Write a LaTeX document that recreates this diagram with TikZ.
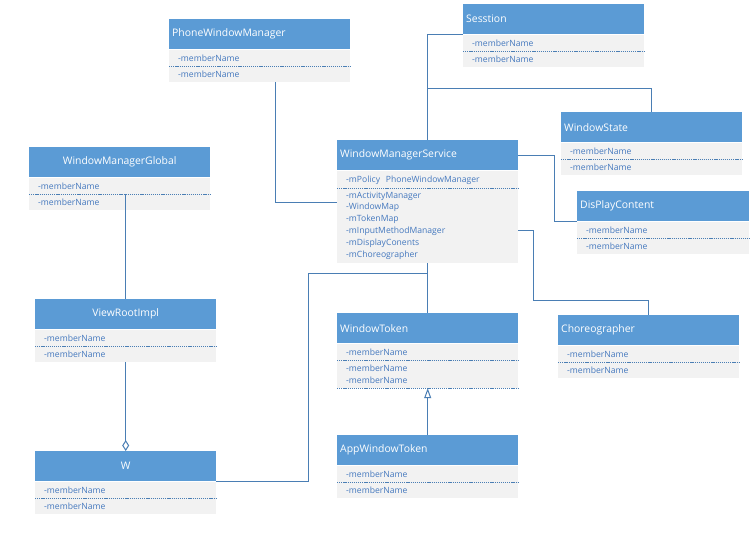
\documentclass[tikz,border=0pt]{standalone}
\usepackage{fontspec}
\setmainfont{Open Sans}
\usetikzlibrary{arrows.meta}

\definecolor{hdrblue}{RGB}{91,155,213}
\definecolor{bodygray}{RGB}{242,242,242}
\definecolor{membblue}{RGB}{68,120,190}
\definecolor{linkblue}{RGB}{74,126,180}

\tikzset{
  hdr/.style={fill=hdrblue, text=white, anchor=north west, inner xsep=3pt,
    minimum height=30pt, font=\fontsize{10.4}{12}\selectfont},
  bdy/.style={fill=bodygray, text=membblue, anchor=north west, inner xsep=9pt,
    inner ysep=0pt, minimum height=16pt, align=left, text height=8pt, text depth=0.7pt,
    font=\fontsize{8.6}{11.8}\selectfont},
  bdymulti/.style={bdy, text height=, text depth=},
  sep/.style={linkblue, line width=0.5pt, dash pattern=on 1.2pt off 0.9pt},
  conn/.style={linkblue, line width=1pt},
}

\begin{document}
\begin{tikzpicture}[x=1pt,y=-1pt]
  \fill[white] (0,0) rectangle (754,533);
  \useasboundingbox (0,0) rectangle (754,533);

  % classes with two members
  \foreach \n/\x/\y/\w/\ttl/\al in {
      pwm/169/19/181/PhoneWindowManager/left,
      ses/463/4/181/Sesstion/left,
      wst/561/112/181/WindowState/left,
      dpc/577/191/172/DisPlayContent/left,
      wmg/29/147/181/WindowManagerGlobal/center,
      vri/35/299/181/ViewRootImpl/center,
      w/35/451/181/W/center,
      awt/337/435/181/AppWindowToken/left,
      cho/558/315/181/Choreographer/left} {
    \pgfmathsetmacro\tw{\w-6}
    \pgfmathsetmacro\bw{\w-18}
    \node[hdr, text width=\tw pt, align=\al] (\n) at (\x,\y) {\ttl};
    \node[bdy, text width=\bw pt] (\n-a) at (\n.south west) {-memberName};
    \node[bdy, text width=\bw pt] (\n-b) at (\n-a.south west) {-memberName};
    \draw[sep] (\n-b.north west) -- (\n-b.north east);
  }

  % WindowManagerService
  \node[hdr, text width=175pt, align=left] (wms) at (337,140) {WindowManagerService};
  \node[bdy, text width=163pt, minimum height=17pt] (wms-a) at (wms.south west)
    {-mPolicy\ \ PhoneWindowManager};
  \node[bdymulti, text width=163pt, minimum height=75pt] (wms-b) at (wms-a.south west)
    {-mActivityManager\\-WindowMap\\-mTokenMap\\-mInputMethodManager\\-mDisplayConents\\-mChoreographer};
  \draw[sep] (wms-b.north west) -- (wms-b.north east);

  % WindowToken
  \node[hdr, text width=175pt, align=left] (wt) at (337,313) {WindowToken};
  \node[bdy, text width=163pt] (wt-a) at (wt.south west) {-memberName};
  \node[bdymulti, text width=163pt, minimum height=28pt] (wt-b) at (wt-a.south west)
    {-memberName\\-memberName};
  \draw[sep] (wt-b.north west) -- (wt-b.north east);
  \draw[sep] (wt-b.south west) -- (wt-b.south east);

  % connectors
  \draw[conn] ([xshift=15.5pt]pwm-b.south) |- ([yshift=23.5pt]wms-b.west);
  \draw[conn] (wms.north) |- (ses.south west);
  \draw[conn] ([yshift=52pt]wms.north) -| (wst.north);
  \draw[conn] (wms.east) -- ++(36,0) |- (dpc.south west);
  \draw[conn] ([yshift=-4.5pt]wms-b.east) -- ++(15,0) |- ([yshift=15pt]cho.north) -- (cho.north);
  \draw[conn] (wms-b.south) -- (wt.north);
  \draw[conn, -{Triangle[open, length=10pt, width=7pt]}] (awt.north) -- (wt-b.south);
  \draw[conn] (w.south east) -- ++(92,0) |- ([yshift=-10pt]wms-b.south);
  \draw[conn] (vri.north |- wmg-b.north) -- (vri.north);
  \draw[conn, -{Diamond[open, length=11pt, width=7pt]}] (vri-b.south) -- (w.north);
\end{tikzpicture}
\end{document}
